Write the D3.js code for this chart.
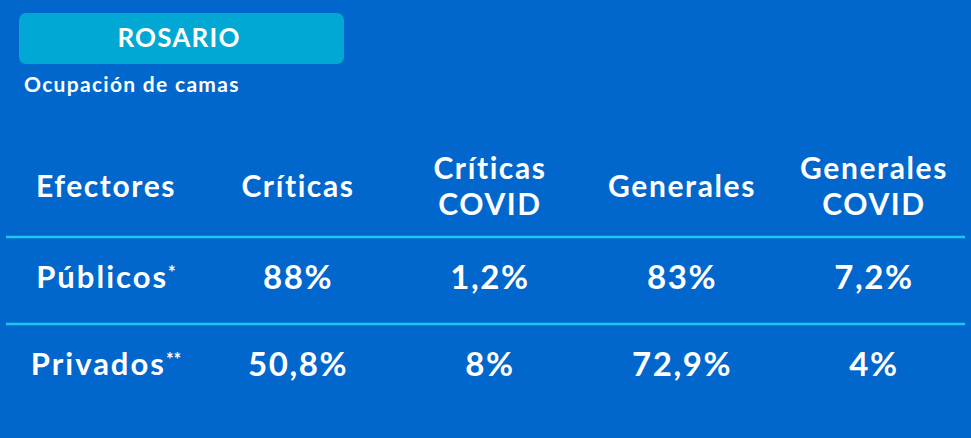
<!DOCTYPE html>
<html><head><meta charset="utf-8">
<script src="https://cdn.jsdelivr.net/npm/d3@7"></script>
<style>html,body{margin:0;padding:0;background:#0167CD;}svg{display:block;}</style>
</head><body>
<script>
const title = "ROSARIO";
const subtitle = "Ocupación de camas";
const columns = ["Efectores", "Críticas", "Críticas\nCOVID", "Generales", "Generales\nCOVID"];
const rowLabels = ["Públicos", "Privados"];
const rowMarks = ["*", "**"];
const criticas = ["88%", "50,8%"];
const criticasCovid = ["1,2%", "8%"];
const generales = ["83%", "72,9%"];
const generalesCovid = ["7,2%", "4%"];

const W = 971, H = 438;
const font = "Lato, 'Open Sans', sans-serif";
const svg = d3.select("body").append("svg").attr("width", W).attr("height", H);
svg.append("rect").attr("width", W).attr("height", H).attr("fill", "#0167CD");

// title box
svg.append("rect").attr("x", 19).attr("y", 13).attr("width", 325).attr("height", 51)
  .attr("rx", 7).attr("fill", "#00A8D3");
svg.append("text").attr("x", 179).attr("y", 38).attr("dy", "0.35em")
  .attr("text-anchor", "middle").attr("fill", "#fff").attr("font-family", font)
  .attr("font-weight", 700).attr("font-size", 26).attr("letter-spacing", 1.2).text(title);
svg.append("text").attr("x", 24).attr("y", 85).attr("dy", "0.35em")
  .attr("fill", "#fff").attr("font-family", font)
  .attr("font-weight", 700).attr("font-size", 21).attr("letter-spacing", 1.3).text(subtitle);

const x = d3.scalePoint().domain(columns).range([106, 874]);
const rowKeys = ["header"].concat(rowLabels);
const y = d3.scaleBand().domain(rowKeys).range([150, 411]);

// separators
svg.selectAll("line.sep").data(rowLabels).join("line").attr("class", "sep")
  .attr("x1", 6).attr("x2", 965)
  .attr("y1", d => y(d)).attr("y2", d => y(d))
  .attr("stroke", "#1FC6F2").attr("stroke-width", 2.5);

// header
const hdr = svg.append("g");
columns.forEach(c => {
  const lines = c.split("\n");
  const t = hdr.append("text").attr("text-anchor", "middle").attr("fill", "#fff")
    .attr("font-family", font).attr("font-weight", 700).attr("font-size", 30)
    .attr("letter-spacing", 1.6);
  const cy = y("header") + y.bandwidth() / 2 - 7;
  const lh = 36;
  lines.forEach((ln, i) => {
    t.append("tspan").attr("x", x(c))
      .attr("y", cy + (i - (lines.length - 1) / 2) * lh).attr("dy", "0.35em").text(ln);
  });
});

// rows
const valueCols = [criticas, criticasCovid, generales, generalesCovid];
rowLabels.forEach((r, ri) => {
  const cy = y(r) + y.bandwidth() / 2 - 3;
  const t = svg.append("text").attr("x", x(columns[0])).attr("y", cy).attr("dy", "0.35em")
    .attr("text-anchor", "middle").attr("fill", "#fff").attr("font-family", font)
    .attr("font-weight", 700).attr("font-size", 31).attr("letter-spacing", 2);
  t.append("tspan").text(r);
  t.append("tspan").attr("font-size", 18).attr("dy", "-0.5em").attr("letter-spacing", 0).text(rowMarks[ri]);
  valueCols.forEach((vals, ci) => {
    svg.append("text").attr("x", x(columns[ci + 1])).attr("y", cy).attr("dy", "0.35em")
      .attr("text-anchor", "middle").attr("fill", "#fff").attr("font-family", font)
      .attr("font-weight", 700).attr("font-size", 33).attr("letter-spacing", 1.6).text(vals[ri]);
  });
});
</script>
</body></html>
